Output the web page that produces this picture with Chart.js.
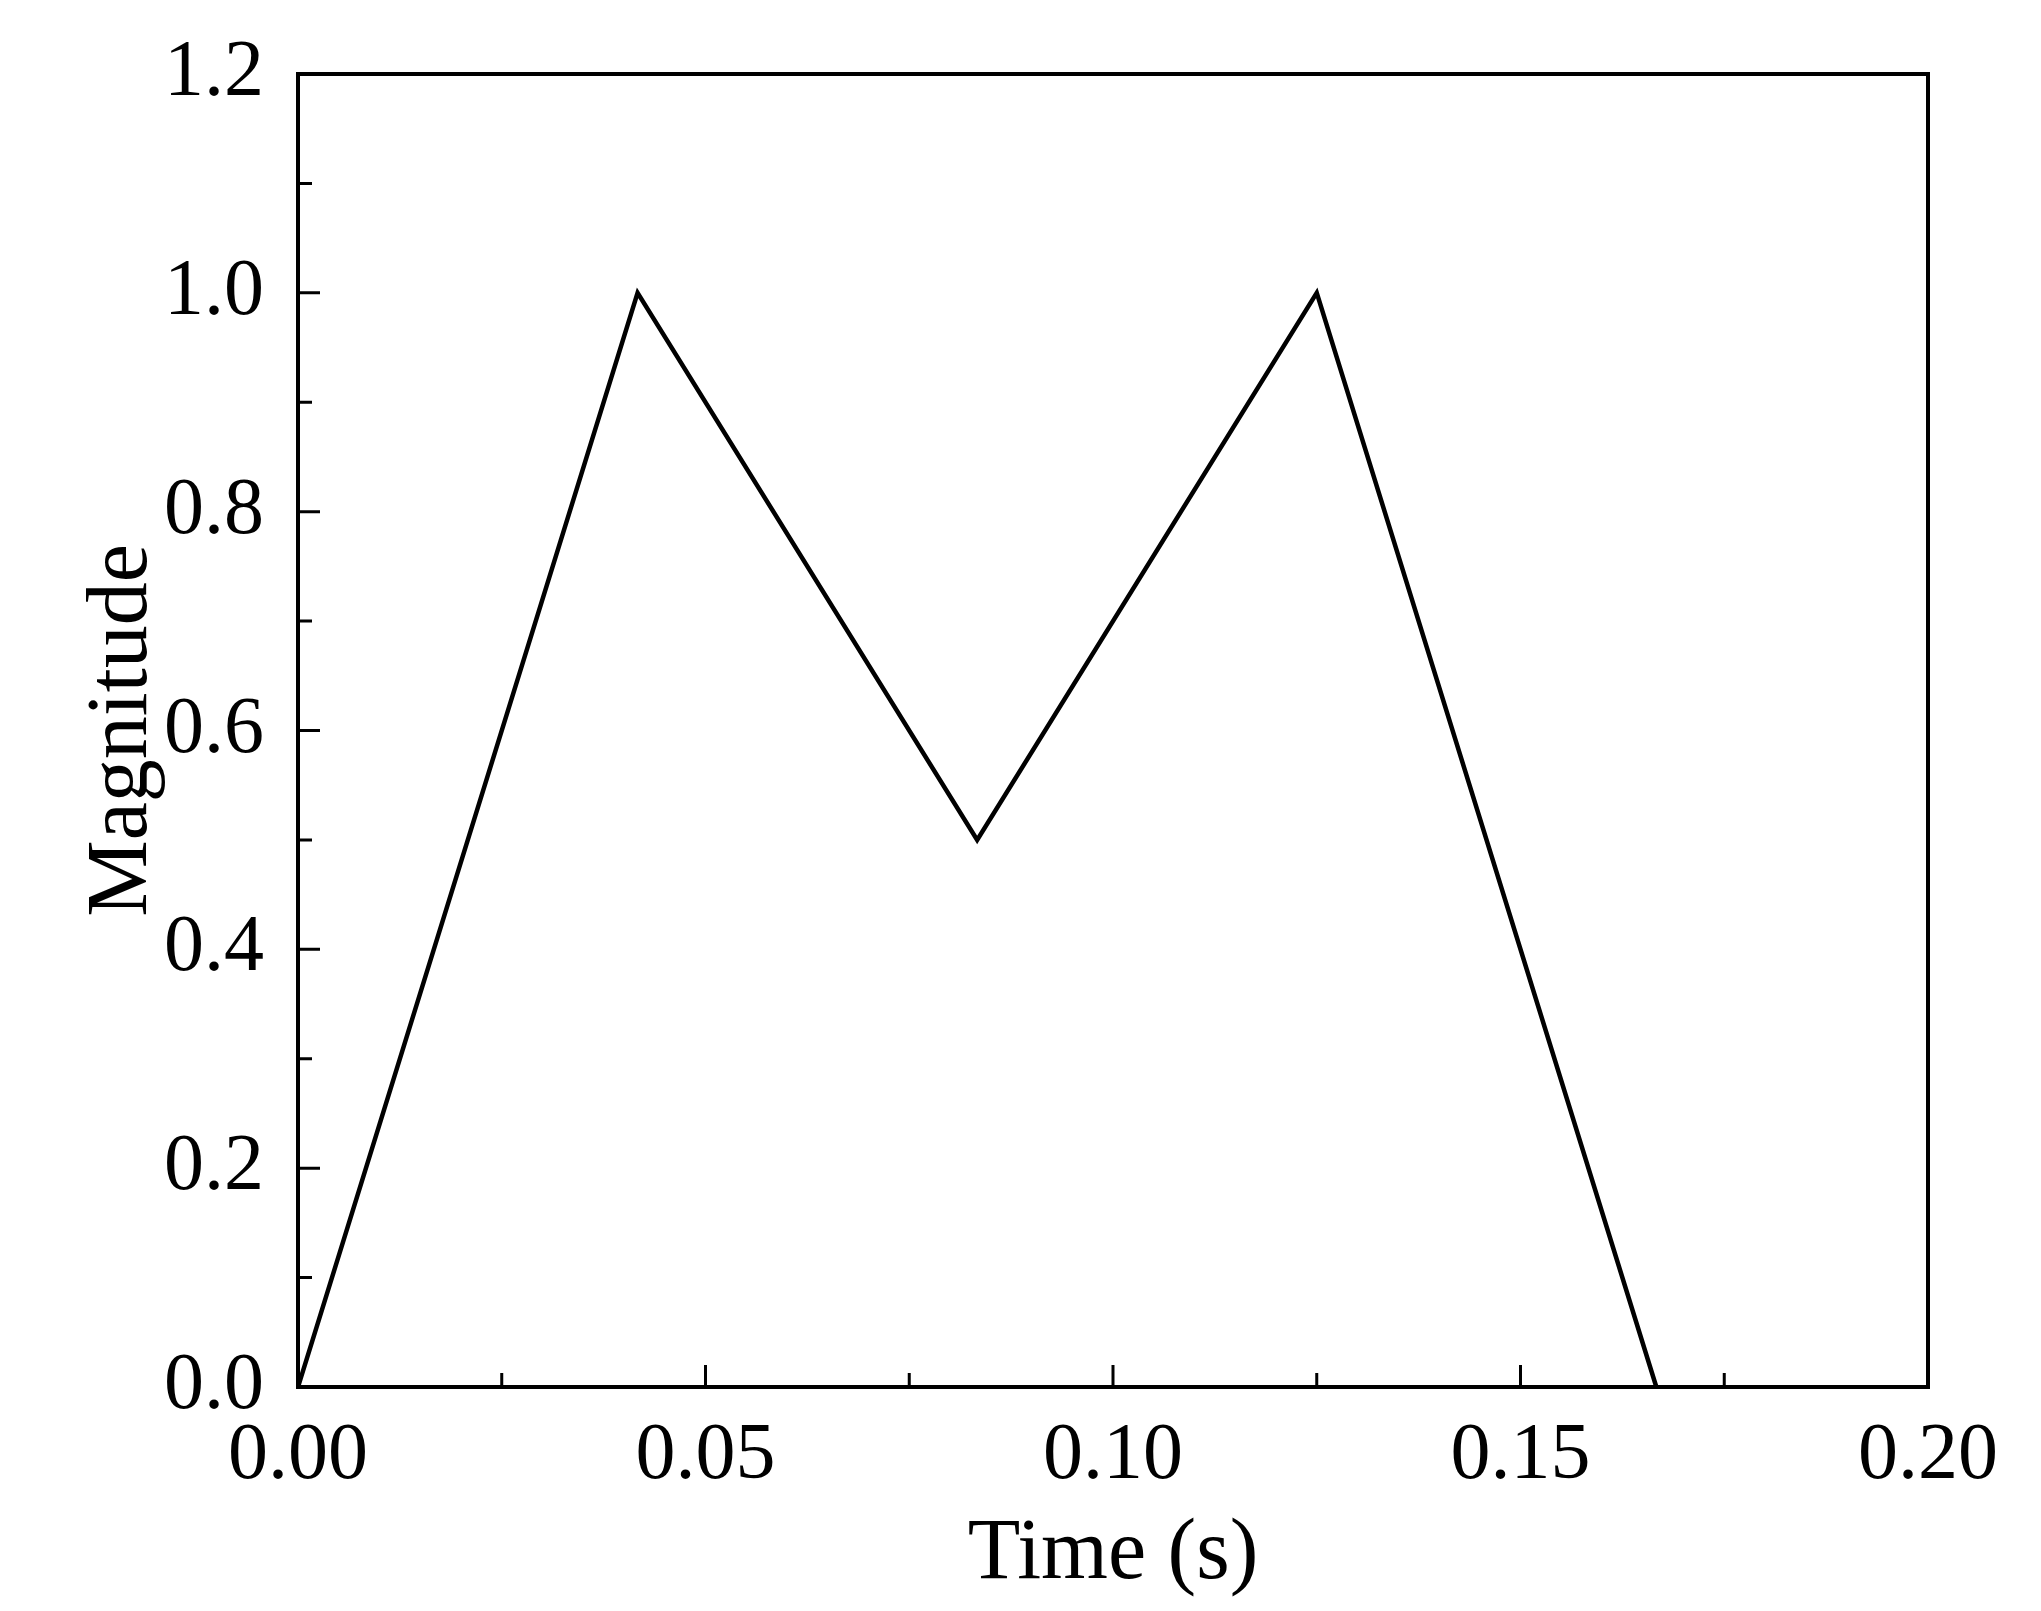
<!DOCTYPE html>
<html><head><meta charset="utf-8">
<script src="https://cdn.jsdelivr.net/npm/chart.js@4/dist/chart.umd.min.js"></script>
<style>html,body{margin:0;padding:0;background:#fff}#w{width:2041px;height:1611px}</style>
</head><body><div id="w"><canvas id="c"></canvas></div>
<script>
const timeValues = [0, 0.041667, 0.083333, 0.125, 0.166667];
const magnitudeValues = [0, 1.0, 0.5, 1.0, 0];
const xTicks = [0, 0.05, 0.10, 0.15, 0.20];
const yTicks = [0, 0.2, 0.4, 0.6, 0.8, 1.0, 1.2];
const FONT = "'Liberation Serif','Times New Roman',serif";

const frame = {
  id: 'frame',
  afterDraw(chart) {
    const {ctx, chartArea: a, scales: {x, y}} = chart;
    ctx.save();
    ctx.strokeStyle = '#000';
    ctx.lineWidth = 4;
    ctx.strokeRect(a.left, a.top, a.right - a.left, a.bottom - a.top);
    ctx.lineWidth = 3;
    ctx.beginPath();
    for (let i = 0; i <= 8; i++) {
      const v = i * 0.025, px = x.getPixelForValue(v), L = i % 2 ? 14 : 22;
      ctx.moveTo(px, a.bottom); ctx.lineTo(px, a.bottom - L);
    }
    for (let i = 0; i <= 12; i++) {
      const v = i * 0.1, py = y.getPixelForValue(v), L = i % 2 ? 14 : 22;
      ctx.moveTo(a.left, py); ctx.lineTo(a.left + L, py);
    }
    ctx.stroke();
    ctx.restore();
  }
};

new Chart(document.getElementById('c'), {
  type: 'line',
  data: { datasets: [{ data: timeValues.map((t, i) => ({x: t, y: magnitudeValues[i]})),
    borderColor: '#000', borderWidth: 4.5, pointRadius: 0, tension: 0, fill: false }] },
  options: {
    responsive: true, maintainAspectRatio: false, animation: false,
    layout: { padding: { top: 74, right: 113, left: 68, bottom: 0 } },
    plugins: { legend: { display: false }, tooltip: { enabled: false } },
    scales: {
      x: { type: 'linear', min: 0, max: 0.2,
        afterBuildTicks: s => { s.ticks = xTicks.map(v => ({value: v})); },
        afterFit: s => { s.height = 224; },
        grid: { display: false }, border: { display: false },
        ticks: { color: '#000', font: { family: FONT, size: 80 }, padding: 14,
          maxRotation: 0, callback: v => v.toFixed(2) },
        title: { display: true, text: 'Time (s)', color: '#000', font: { family: FONT, size: 86 }, padding: { top: -22 } } },
      y: { type: 'linear', min: 0, max: 1.2,
        afterBuildTicks: s => { s.ticks = yTicks.map(v => ({value: v})); },
        afterFit: s => { s.width = 230; },
        grid: { display: false }, border: { display: false },
        ticks: { color: '#000', font: { family: FONT, size: 80 }, padding: 26, callback: v => v.toFixed(1) },
        title: { display: true, text: 'Magnitude', color: '#000', font: { family: FONT, size: 86 }, padding: { bottom: 0 } } }
    }
  },
  plugins: [frame]
});
</script></body></html>
